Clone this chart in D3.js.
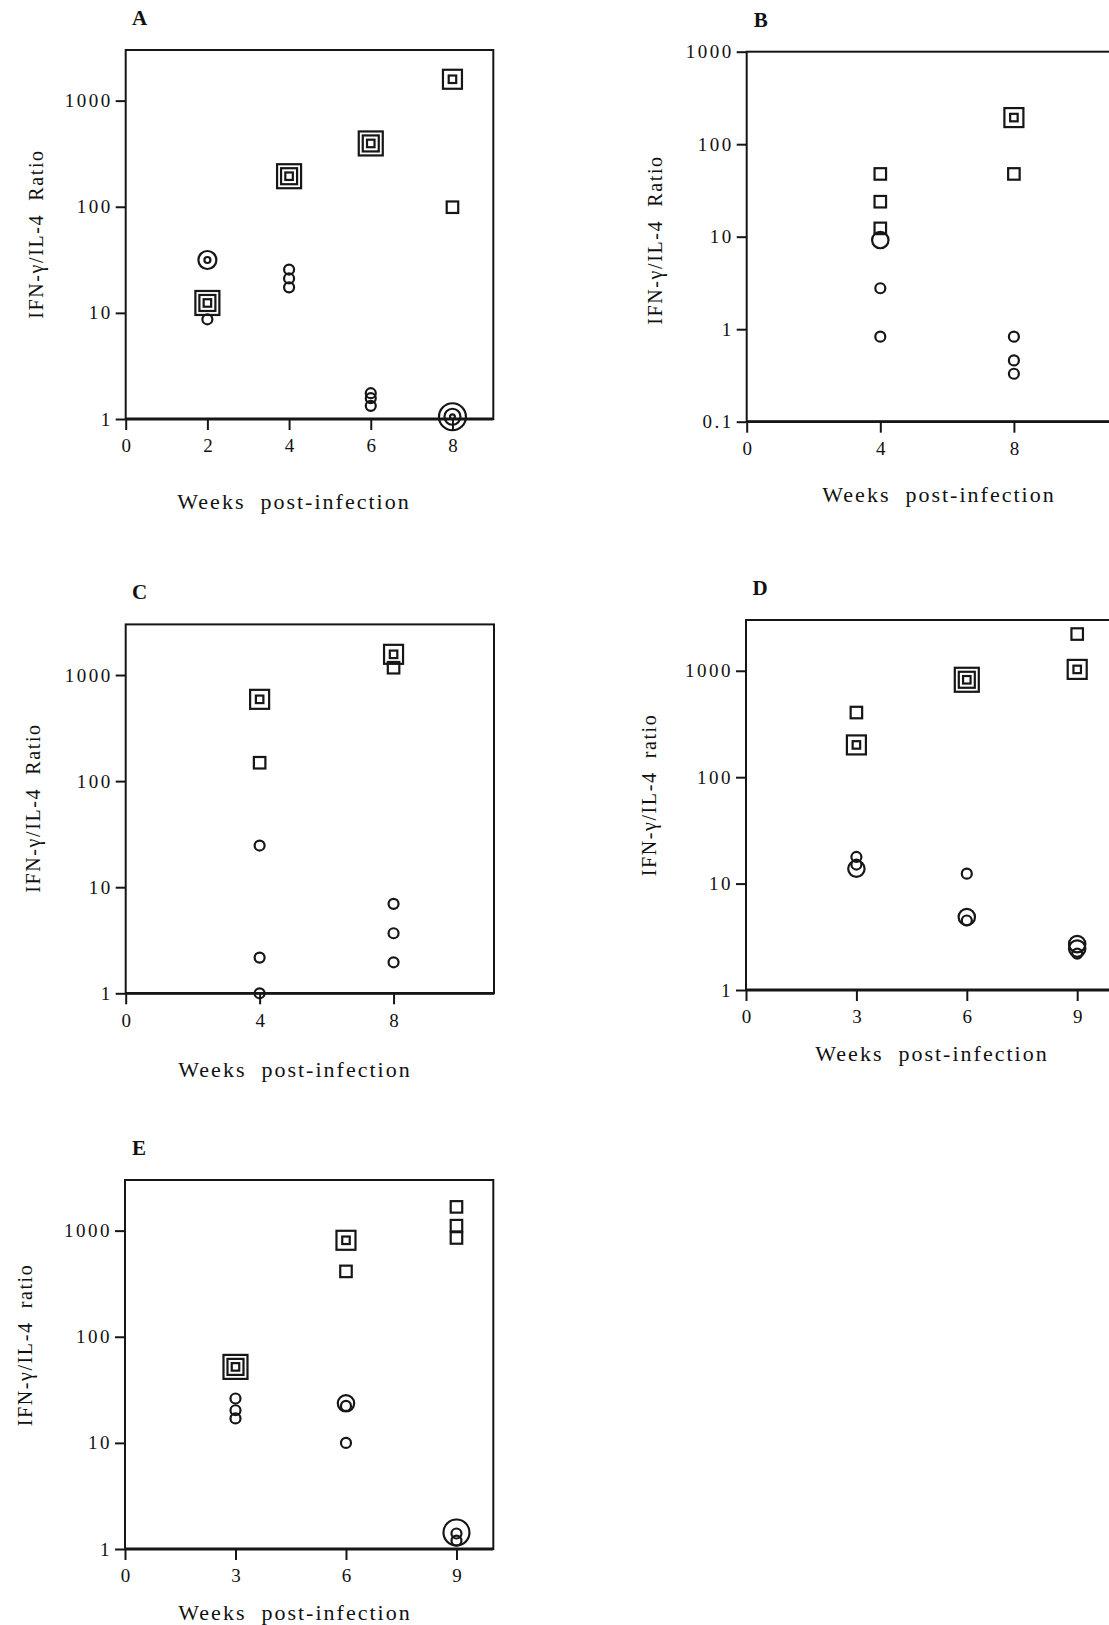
<!DOCTYPE html>
<html>
<head>
<meta charset="utf-8">
<script src="https://cdn.jsdelivr.net/npm/d3@7"></script>
<style>
  body { margin: 0; background: #fff; }
  svg { display: block; }
  text { font-family: 'Liberation Serif', 'Times New Roman', serif; fill: #111; }
</style>
</head>
<body>
<div id="figure"></div>
<script>
// tick values per panel
const xTicksA = [0, 2, 4, 6, 8];
const xTicksB = [0, 4, 8];
const xTicksC = [0, 4, 8];
const xTicksD = [0, 3, 6, 9];
const xTicksE = [0, 3, 6, 9];
const yTicksStd = [1, 10, 100, 1000];
const yTicksB = [0.1, 1, 10, 100, 1000];

// points: [week, IFN-g/IL-4 ratio, number of coincident animals]
const squaresA = [[2, 12.4, 3], [4, 194, 3], [6, 395, 3], [8, 1590, 2], [8, 99, 1]];
const circlesA = [[2, 31.5, 2], [2, 8.7, 1], [4, 25.6, 1], [4, 21.1, 1], [4, 17.4, 1],
                  [6, 1.75, 1], [6, 1.57, 1], [6, 1.33, 1], [8, 1.05, 3]];

const squaresB = [[4, 47.7, 1], [4, 23.9, 1], [4, 12.3, 1], [8, 194, 2], [8, 47.7, 1]];
const circlesB = [[4, 9.2, 2], [4, 2.77, 1], [4, 0.83, 1], [8, 0.83, 1], [8, 0.46, 1], [8, 0.33, 1]];

const squaresC = [[4, 590, 2], [4, 149, 1], [8, 1567, 2], [8, 1172, 1]];
const circlesC = [[4, 24.7, 1], [4, 2.17, 1], [4, 1.0, 1], [8, 6.97, 1], [8, 3.68, 1], [8, 1.96, 1]];

const squaresD = [[3, 405, 1], [3, 201, 2], [6, 823, 3], [9, 2214, 1], [9, 1030, 2]];
const circlesD = [[3, 17.8, 1], [3, 15.1, 1], [3, 13.8, 2], [6, 12.4, 1], [6, 4.85, 2], [6, 4.5, 1],
                  [9, 2.7, 2], [9, 2.45, 2], [9, 2.2, 1]];

const squaresE = [[3, 52, 3], [6, 811, 2], [6, 413, 1], [9, 1674, 1], [9, 1114, 1], [9, 853, 1]];
const circlesE = [[3, 26.2, 1], [3, 20.3, 1], [3, 17, 1], [6, 23.6, 2], [6, 22.3, 1], [6, 10, 1],
                  [9, 1.43, 3], [9, 1.4, 1], [9, 1.2, 1]];

const titleRatio = "IFN-\u03b3/IL-4  Ratio";
const titleratio = "IFN-\u03b3/IL-4  ratio";
const xTitle = "Weeks  post-infection";

// layout of each panel (pixels)
let panels = [
  {label: "A", x0: 125.7, x1: 493.3, xMax: 9, y0: 419, y1: 50, yMin: 1, yMax: 3000,
   xTicks: xTicksA, yTicks: yTicksStd, squares: squaresA, circles: circlesA, rings: true,
   yTitle: titleRatio, yTitlePos: [36, 234], xTitlePos: [294, 509]},
  {label: "B", x0: 746.7, x1: 1147.5, xMax: 12, y0: 421.7, y1: 51.7, yMin: 0.1, yMax: 1000,
   xTicks: xTicksB, yTicks: yTicksB, squares: squaresB, circles: circlesB, rings: false,
   yTitle: titleRatio, yTitlePos: [655, 240], xTitlePos: [939, 502]},
  {label: "C", x0: 125.7, x1: 494, xMax: 11, y0: 993.3, y1: 624.4, yMin: 1, yMax: 3000,
   xTicks: xTicksC, yTicks: yTicksStd, squares: squaresC, circles: circlesC, rings: false,
   yTitle: titleRatio, yTitlePos: [33, 808], xTitlePos: [295, 1077]},
  {label: "D", x0: 746, x1: 1114, xMax: 10, y0: 990, y1: 620, yMin: 1, yMax: 3000,
   xTicks: xTicksD, yTicks: yTicksStd, squares: squaresD, circles: circlesD, rings: false,
   yTitle: titleratio, yTitlePos: [649, 795], xTitlePos: [932, 1061]},
  {label: "E", x0: 125, x1: 493.3, xMax: 10, y0: 1549, y1: 1180, yMin: 1, yMax: 3000,
   xTicks: xTicksE, yTicks: yTicksStd, squares: squaresE, circles: circlesE, rings: false,
   yTitle: titleratio, yTitlePos: [25, 1345], xTitlePos: [295, 1620]}
];

let svg = d3.select("#figure").append("svg")
  .attr("width", 1109)
  .attr("height", 1625);

svg.append("rect")
  .attr("width", 1109).attr("height", 1625)
  .attr("fill", "#fff");

const ink = "#161616";

function formatY(v) {
  return v < 1 ? "0.1" : String(v);
}

panels.forEach(function(p) {
  let x = d3.scaleLinear().domain([0, p.xMax]).range([p.x0, p.x1]);
  let y = d3.scaleLog().domain([p.yMin, p.yMax]).range([p.y0, p.y1]);
  let g = svg.append("g");

  // frame
  g.append("rect")
    .attr("x", x(0)).attr("y", y(p.yMax))
    .attr("width", x(p.xMax) - x(0))
    .attr("height", y(p.yMin) - y(p.yMax))
    .attr("fill", "none")
    .attr("stroke", ink)
    .attr("stroke-width", 2);

  g.append("line")
    .attr("x1", x(0)).attr("x2", x(p.xMax))
    .attr("y1", y(p.yMin)).attr("y2", y(p.yMin))
    .attr("stroke", ink).attr("stroke-width", 2.8);

  // axes
  let xAxis = g.append("g")
    .attr("transform", "translate(0," + y(p.yMin) + ")")
    .call(d3.axisBottom(x).tickValues(p.xTicks).tickSize(11).tickPadding(9).tickFormat(d3.format("d")));
  let yAxis = g.append("g")
    .attr("transform", "translate(" + x(0) + ",0)")
    .call(d3.axisLeft(y).tickValues(p.yTicks).tickSize(10).tickPadding(3).tickFormat(formatY));

  [xAxis, yAxis].forEach(function(a) {
    a.select(".domain").remove();
    a.selectAll(".tick line").attr("stroke", ink).attr("stroke-width", 2);
    a.selectAll(".tick text")
      .attr("fill", ink)
      .style("font-family", "'Liberation Serif', serif")
      .style("font-size", "19px");
  });
  yAxis.selectAll(".tick text").style("letter-spacing", "2.5px");

  // panel letter
  g.append("text")
    .attr("x", p.x0 + 14)
    .attr("y", y(p.yMax) - 25)
    .attr("text-anchor", "middle")
    .style("font-weight", "bold")
    .style("font-size", "21px")
    .text(p.label);

  // axis titles
  g.append("text")
    .attr("x", p.xTitlePos[0])
    .attr("y", p.xTitlePos[1])
    .attr("text-anchor", "middle")
    .style("font-size", "22px")
    .style("letter-spacing", "2px")
    .style("white-space", "pre")
    .text(xTitle);

  g.append("text")
    .attr("transform", "translate(" + p.yTitlePos[0] + "," + p.yTitlePos[1] + ") rotate(-90)")
    .attr("text-anchor", "middle")
    .attr("dominant-baseline", "central")
    .style("font-size", "20px")
    .style("letter-spacing", "1.6px")
    .style("white-space", "pre")
    .text(p.yTitle);

  // squares: n concentric outlines
  let squareSides = {1: [11.5], 2: [19, 7.5], 3: [24, 16, 7.5]};
  p.squares.forEach(function(d) {
    squareSides[d[2]].forEach(function(s) {
      g.append("rect")
        .attr("x", x(d[0]) - s / 2)
        .attr("y", y(d[1]) - s / 2)
        .attr("width", s).attr("height", s)
        .attr("fill", "none")
        .attr("stroke", ink)
        .attr("stroke-width", 2.2);
    });
  });

  // circles: panel A draws nested rings, the others only the outer ring
  let ringRadii = p.rings ? {1: [5], 2: [9, 3], 3: [13.5, 8, 2.4]} : {1: [5], 2: [8.2], 3: [13]};
  p.circles.forEach(function(d) {
    ringRadii[d[2]].forEach(function(r) {
      g.append("circle")
        .attr("cx", x(d[0]))
        .attr("cy", y(d[1]))
        .attr("r", r)
        .attr("fill", "none")
        .attr("stroke", ink)
        .attr("stroke-width", 2.2);
    });
  });
});
</script>
</body>
</html>
